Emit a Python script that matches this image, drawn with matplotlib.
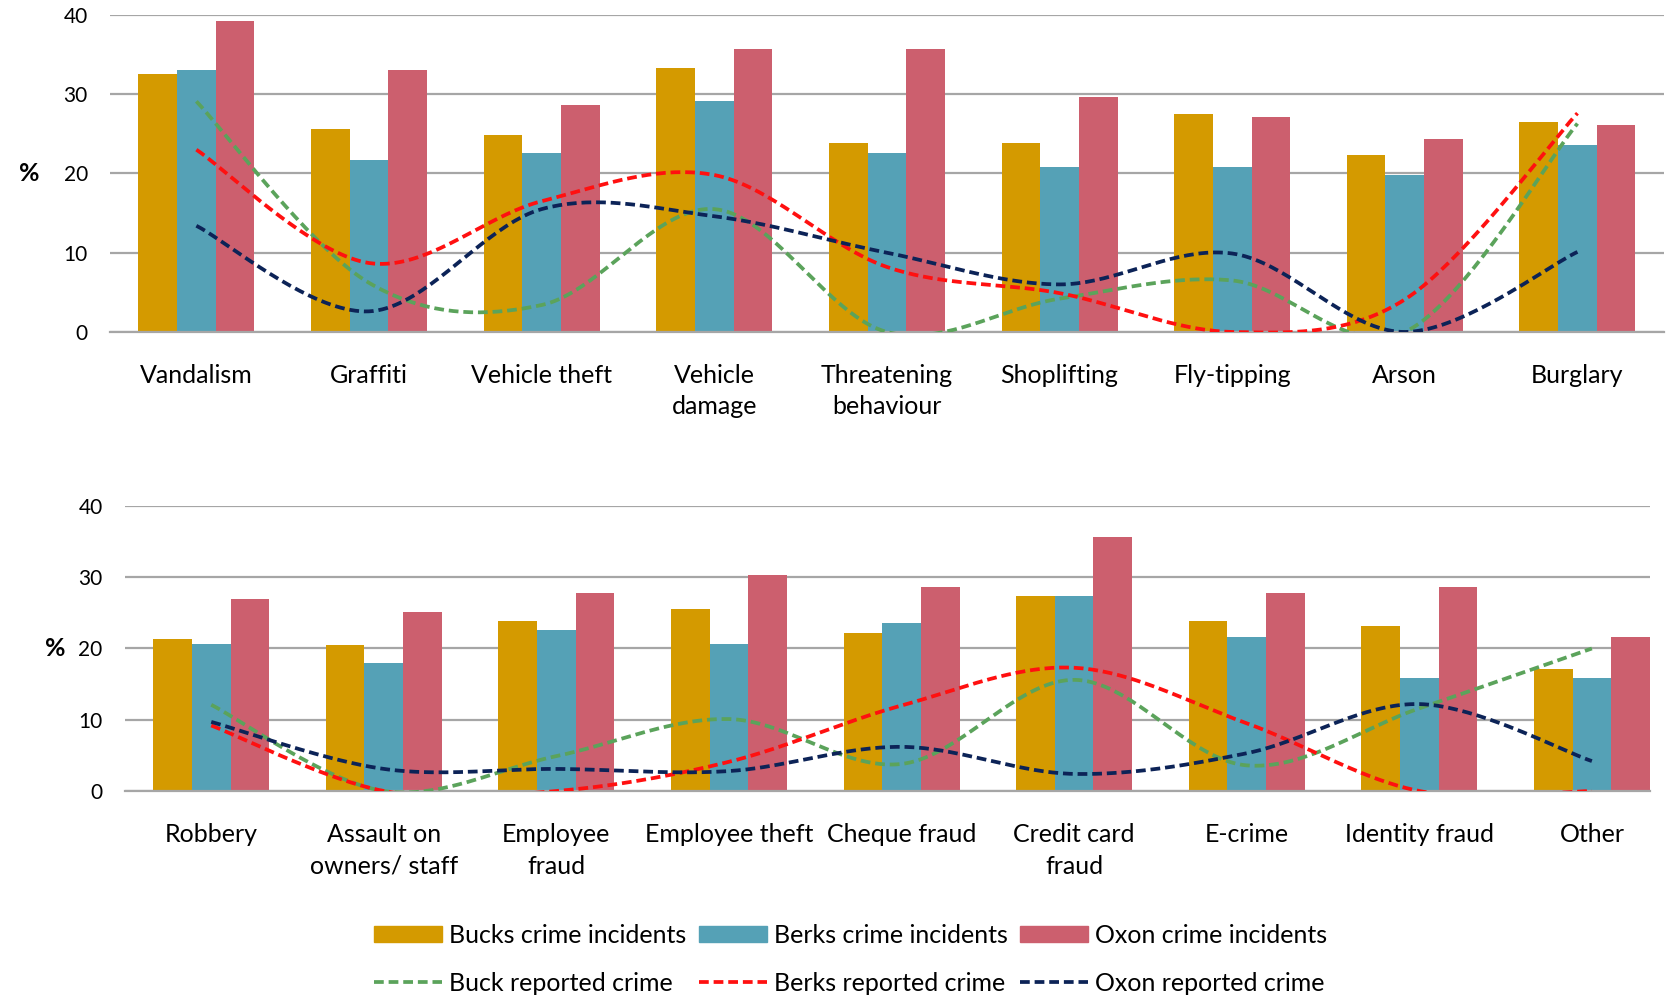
import matplotlib
matplotlib.use("Agg")
import matplotlib.pyplot as plt
import numpy as np
from matplotlib.patches import Patch
from matplotlib.lines import Line2D

plt.rcParams["font.family"] = ["Lato", "DejaVu Sans"]

# top panel
top_cats = ["Vandalism", "Graffiti", "Vehicle theft", "Vehicle\ndamage", "Threatening\nbehaviour",
            "Shoplifting", "Fly-tipping", "Arson", "Burglary"]
top_bucks = [32.5, 25.6, 24.8, 33.3, 23.9, 23.9, 27.5, 22.3, 26.5]
top_berks = [33.0, 21.7, 22.6, 29.2, 22.6, 20.8, 20.8, 19.8, 23.6]
top_oxon = [39.2, 33.0, 28.7, 35.7, 35.7, 29.6, 27.1, 24.4, 26.1]
top_bucks_rep = [29.1, 6.2, 3.4, 15.5, 0.0, 4.2, 6.5, 0.0, 26.3]
top_berks_rep = [23.0, 8.7, 16.5, 19.8, 8.2, 4.9, 0.0, 4.1, 27.6]
top_oxon_rep = [13.4, 2.6, 15.5, 14.6, 10.0, 6.0, 9.9, 0.0, 10.1]

# bottom panel
bot_cats = ["Robbery", "Assault on\nowners/ staff", "Employee\nfraud", "Employee theft", "Cheque fraud",
            "Credit card\nfraud", "E-crime", "Identity fraud", "Other"]
bot_bucks = [21.4, 20.5, 23.8, 25.6, 22.2, 27.3, 23.8, 23.1, 17.1]
bot_berks = [20.7, 17.9, 22.6, 20.7, 23.6, 27.3, 21.6, 15.9, 15.9]
bot_oxon = [27.0, 25.1, 27.8, 30.3, 28.6, 35.7, 27.8, 28.6, 21.6]
bot_bucks_rep = [12.1, 0.0, 4.9, 10.1, 3.8, 15.6, 3.6, 11.6, 20.0]
bot_berks_rep = [9.2, 0.0, 0.0, 4.1, 12.0, 17.3, 9.5, 0.0, 0.0]
bot_oxon_rep = [9.7, 3.1, 3.1, 2.8, 6.2, 2.4, 5.3, 12.2, 4.2]

bar_colors = ["#D49A00", "#55A1B6", "#CC5F6E"]
line_colors = ["#5BA35B", "#FF1010", "#0C2357"]
bar_labels = ["Bucks crime incidents", "Berks crime incidents", "Oxon crime incidents"]
line_labels = ["Buck reported crime", "Berks reported crime", "Oxon reported crime"]
grid_color = "#A6A6A6"
BAR_W = 0.224
LW = 2.7
DASH = (2.6, 1.3)


def smooth(x, y, n=40):
    # Excel-style smoothed line (Catmull-Rom as Bezier)
    p = np.column_stack([x, y]).astype(float)
    p_ext = np.vstack([p[0], p, p[-1]])
    xs, ys = [], []
    t = np.linspace(0, 1, n)
    for i in range(len(p) - 1):
        p0, p1, p2, p3 = p_ext[i], p_ext[i + 1], p_ext[i + 2], p_ext[i + 3]
        c1 = p1 + (p2 - p0) / 6
        c2 = p2 - (p3 - p1) / 6
        b = ((1 - t) ** 3)[:, None] * p1 + (3 * (1 - t) ** 2 * t)[:, None] * c1 \
            + (3 * (1 - t) * t ** 2)[:, None] * c2 + (t ** 3)[:, None] * p2
        xs.append(b[:, 0])
        ys.append(b[:, 1])
    return np.concatenate(xs), np.concatenate(ys)


def draw_panel(ax, cats, bars, lines, ylabel_x, xmax):
    x = np.arange(len(cats))
    for k, vals in enumerate(bars):
        ax.bar(x + (k - 1) * BAR_W, vals, width=BAR_W, color=bar_colors[k], zorder=2)
    for k, vals in enumerate(lines):
        sx, sy = smooth(x, vals)
        ax.plot(sx, sy, color=line_colors[k], lw=LW, dashes=DASH, zorder=3)
    ax.set_xlim(-0.5, xmax)
    ax.set_ylim(0, 40)
    ax.set_yticks([0, 10, 20, 30, 40])
    ax.yaxis.grid(True, color=grid_color, lw=1.6, zorder=0)
    ax.set_axisbelow(True)
    for s in ["top", "right", "left"]:
        ax.spines[s].set_visible(False)
    ax.spines["bottom"].set_color(grid_color)
    ax.spines["bottom"].set_linewidth(1.6)
    ax.set_xticks(x)
    ax.set_xticklabels(cats, fontsize=18, linespacing=1.45)
    ax.tick_params(axis="x", length=0, pad=23)
    ax.tick_params(axis="y", length=0, pad=16, labelsize=15)
    ax.set_ylabel("%", rotation=0, fontsize=18, fontweight="bold", va="center", ha="center")
    ax.yaxis.set_label_coords(ylabel_x, 0.5)


fig = plt.figure(figsize=(16.75, 9.96), dpi=100)
ax1 = fig.add_axes([0.0657, 0.6667, 0.9276, 0.3183])
ax2 = fig.add_axes([0.0746, 0.2058, 0.9104, 0.2862])

draw_panel(ax1, top_cats, [top_bucks, top_berks, top_oxon],
           [top_bucks_rep, top_berks_rep, top_oxon_rep], -0.052, 8.5)
draw_panel(ax2, bot_cats, [bot_bucks, bot_berks, bot_oxon],
           [bot_bucks_rep, bot_berks_rep, bot_oxon_rep], -0.046, 8 + 1.5 * BAR_W)

handles, labels = [], []
for k in range(3):
    handles.append(Patch(color=bar_colors[k]))
    labels.append(bar_labels[k])
    handles.append(Line2D([0], [0], color=line_colors[k], lw=LW, dashes=DASH))
    labels.append(line_labels[k])
fig.legend(handles, labels, ncol=3, loc="center", bbox_to_anchor=(0.508, 0.037),
           frameon=False, fontsize=18, handlelength=2.7, handleheight=0.65,
           handletextpad=0.3, columnspacing=0.5, labelspacing=1.0)

fig.savefig("out.png", dpi=100)
